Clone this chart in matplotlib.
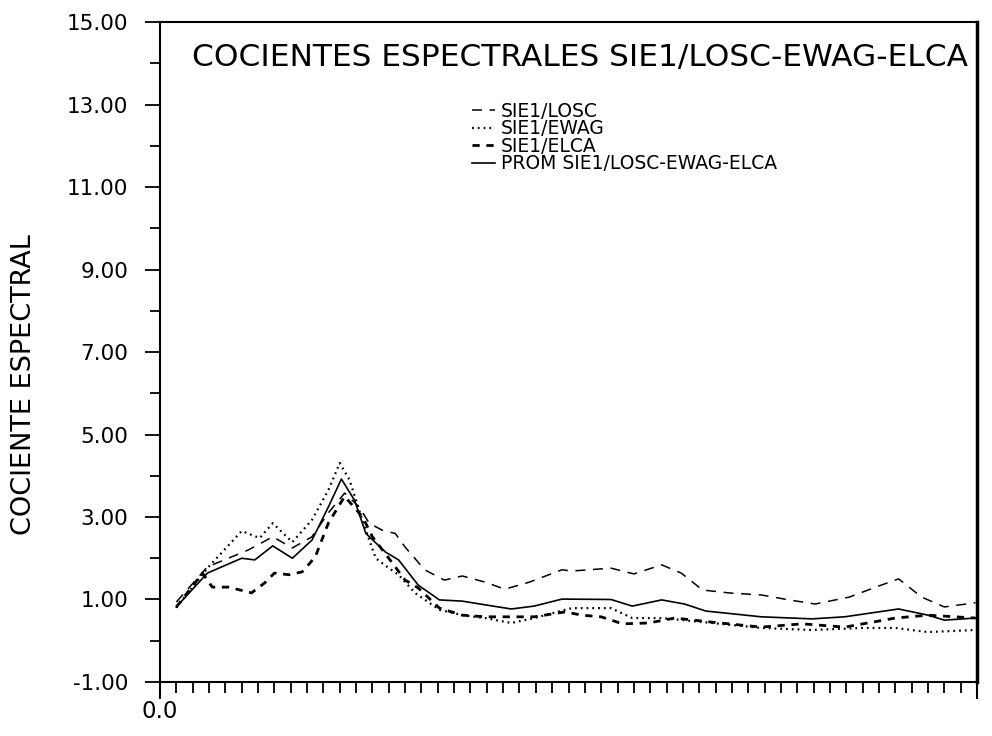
import matplotlib
matplotlib.use("Agg")
import matplotlib.pyplot as plt
from matplotlib.ticker import MultipleLocator, FixedLocator, FixedFormatter

plt.rcParams['font.family'] = ['DejaVu Sans']

# ---- data (frequency, spectral ratio) ----
losc_f = [0.5, 1.45, 2.7, 3.45, 4.05, 4.65, 5.15, 5.65, 6.1, 6.4, 6.8, 7.2, 7.5, 8.1, 8.7,
          9.25, 9.95, 10.55, 11.3, 12.3, 12.6, 13.8, 14.5, 15.35, 15.95, 16.6, 17.4, 18.4,
          19.25, 20.05, 21.1, 21.9, 22.6, 23.3, 24.0, 24.95]
losc_v = [0.94, 1.79, 2.2, 2.52, 2.25, 2.52, 3.1, 3.58, 3.24, 2.85, 2.68, 2.6, 2.27, 1.72, 1.47,
          1.57, 1.42, 1.25, 1.42, 1.72, 1.69, 1.76, 1.62, 1.84, 1.64, 1.23, 1.16, 1.11,
          0.99, 0.89, 1.06, 1.3, 1.5, 1.06, 0.82, 0.92]

ewag_f = [0.5, 1.45, 2.5, 3.05, 3.45, 4.05, 4.65, 5.15, 5.5, 5.8, 6.2, 6.6, 7.0, 7.3, 7.8,
          8.55, 9.25, 9.95, 10.75, 11.45, 12.4, 12.6, 13.8, 14.45, 15.35, 16.9, 18.4, 19.95,
          21.5, 22.5, 23.5, 24.95]
ewag_v = [0.8, 1.76, 2.66, 2.49, 2.85, 2.39, 2.93, 3.65, 4.31, 3.9, 2.9, 2.0, 1.76, 1.6, 1.16,
          0.75, 0.62, 0.55, 0.43, 0.55, 0.75, 0.79, 0.79, 0.55, 0.55, 0.43, 0.31, 0.26,
          0.31, 0.31, 0.21, 0.26]

elca_f = [0.5, 1.3, 1.6, 2.1, 2.8, 3.2, 3.5, 3.95, 4.35, 4.75, 5.15, 5.65, 6.2, 6.5, 7.0,
          7.5, 7.9, 8.55, 9.25, 9.95, 10.75, 11.45, 12.4, 12.9, 13.5, 14.15, 14.95, 15.75,
          16.9, 18.4, 19.65, 20.95, 22.5, 23.5, 24.95]
elca_v = [0.82, 1.64, 1.3, 1.3, 1.16, 1.4, 1.64, 1.6, 1.67, 2.03, 2.85, 3.5, 3.0, 2.52, 2.0,
          1.47, 1.28, 0.79, 0.62, 0.58, 0.58, 0.58, 0.7, 0.62, 0.58, 0.41, 0.43, 0.55,
          0.45, 0.33, 0.41, 0.33, 0.55, 0.62, 0.55]

prom_f = [0.5, 1.45, 2.5, 2.9, 3.45, 4.05, 4.65, 5.15, 5.55, 5.95, 6.3, 6.9, 7.3, 7.9, 8.55,
          9.25, 9.95, 10.75, 11.45, 12.3, 13.8, 14.45, 15.35, 16.05, 16.7, 18.4, 19.95, 20.95,
          22.6, 23.5, 24.0, 24.95]
prom_v = [0.82, 1.64, 2.0, 1.96, 2.3, 2.0, 2.44, 3.24, 3.92, 3.41, 2.6, 2.15, 1.96, 1.35, 0.99,
          0.96, 0.87, 0.77, 0.84, 1.01, 1.0, 0.84, 0.99, 0.89, 0.72, 0.58, 0.53, 0.58,
          0.77, 0.62, 0.5, 0.55]

labels = ["SIE1/LOSC", "SIE1/EWAG", "SIE1/ELCA", "PROM SIE1/LOSC-EWAG-ELCA"]
title = "COCIENTES ESPECTRALES SIE1/LOSC-EWAG-ELCA"
ylabel = "COCIENTE ESPECTRAL"
ytick_vals = [-1, 1, 3, 5, 7, 9, 11, 13, 15]
ytick_labels = ["-1.00", "1.00", "3.00", "5.00", "7.00", "9.00", "11.00", "13.00", "15.00"]

fig = plt.figure(figsize=(9.92, 7.36), dpi=100)
ax = fig.add_axes([0.1613, 0.0734, 0.8236, 0.8966])

ax.plot(losc_f, losc_v, color='black', lw=1.1, linestyle=(0, (6.5, 5)), label=labels[0])
ax.plot(ewag_f, ewag_v, color='black', lw=1.6, linestyle=(0, (0.8, 1.8)), label=labels[1])
ax.plot(elca_f, elca_v, color='black', lw=2.0, linestyle=(0, (2.6, 2.4)), label=labels[2])
ax.plot(prom_f, prom_v, color='black', lw=1.2, linestyle='-', label=labels[3])

ax.set_xlim(0, 25)
ax.set_ylim(-1, 15)

ax.yaxis.set_major_locator(FixedLocator(ytick_vals))
ax.yaxis.set_major_formatter(FixedFormatter(ytick_labels))
ax.yaxis.set_minor_locator(MultipleLocator(2))
ax.tick_params(axis='y', which='major', direction='out', length=11, width=1.3,
               labelsize=15.5, pad=12)
ax.tick_params(axis='y', which='minor', direction='out', length=7.5, width=1.3)

ax.xaxis.set_major_locator(FixedLocator([0, 25]))
ax.xaxis.set_major_formatter(FixedFormatter(["0.0", ""]))
ax.xaxis.set_minor_locator(MultipleLocator(0.5))
ax.tick_params(axis='x', which='major', direction='out', length=12, width=1.5,
               labelsize=16.5, pad=1)
ax.tick_params(axis='x', which='minor', direction='out', length=8, width=1.3)

for s in ['left', 'top', 'bottom']:
    ax.spines[s].set_linewidth(1.5)
ax.spines['right'].set_linewidth(2.5)

ax.set_ylabel(ylabel, fontsize=19.5)
ax.yaxis.set_label_coords(-0.151, 0.45)
ax.text(0.514, 0.947, title, transform=ax.transAxes, ha='center', va='center', fontsize=22.5)

leg = ax.legend(loc='upper left', bbox_to_anchor=(0.382, 0.879), frameon=False,
                fontsize=13.5, handlelength=1.2, handletextpad=0.35, labelspacing=-0.08,
                borderpad=0, borderaxespad=0)

fig.savefig("out.png", dpi=100)
